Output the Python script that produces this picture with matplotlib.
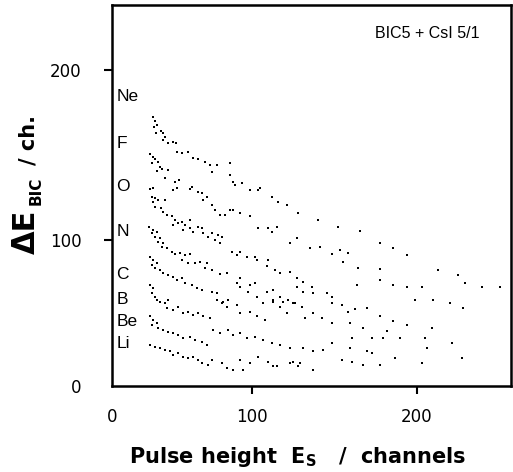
import matplotlib
matplotlib.use("Agg")
import matplotlib.pyplot as plt

# ---------------- data ----------------
ne_x = [40.4, 41.4, 42.4, 40.8, 42.0, 44.8, 46.4, 47.5, 46.0, 49.5, 52.5, 54.1, 54.5, 57.6, 61.6,
        64.6, 67.7, 71.7, 74.7, 78.8, 75.7, 86.8, 86.8, 88.9, 89.9, 93.9, 99.0, 104.0, 105.0,
        112.1, 116.1, 121.2, 128.3, 140.4, 152.5, 165.7, 177.8, 185.9, 193.9, 213.1, 225.2,
        229.3, 239.4, 250.5]
ne_y = [172.6, 170.2, 167.6, 166.7, 162.8, 164.3, 162.8, 160.8, 158.8, 157.3, 157.9, 156.9, 152.0,
        151.4, 152.0, 148.1, 147.5, 146.1, 144.1, 144.1, 140.2, 145.1, 138.3, 134.3, 132.4, 133.4,
        129.4, 129.4, 130.4, 125.5, 122.6, 120.6, 115.7, 111.8, 107.9, 105.0, 98.1, 95.2, 91.3,
        82.4, 79.5, 74.6, 72.6, 72.6]

f_x = [38.4, 40.0, 41.4, 39.4, 43.4, 44.4, 42.4, 45.4, 49.5, 47.5, 53.5, 56.1, 52.5, 54.5, 62.6,
       63.6, 67.7, 69.7, 72.7, 70.7, 75.7, 77.8, 80.8, 83.8, 86.8, 88.9, 92.9, 99.0, 104.0, 110.1,
       112.1, 115.1, 123.2, 127.2, 135.3, 141.4, 148.5, 153.5, 158.6, 155.6, 164.7, 177.8, 185.9,
       193.9, 203.0]
f_y = [150.6, 148.6, 147.5, 145.1, 146.1, 143.2, 140.6, 141.6, 141.2, 136.3, 134.3, 135.3, 129.4,
       130.4, 129.8, 131.4, 128.5, 127.5, 125.5, 123.6, 120.6, 117.7, 114.7, 114.7, 117.7, 117.7,
       115.7, 113.8, 106.9, 106.9, 104.9, 107.9, 98.1, 101.0, 95.1, 96.1, 91.8, 94.1, 92.2, 87.3,
       83.4, 82.8, 73.6, 72.6, 72.6]

o_x = [38.4, 40.4, 39.4, 41.4, 40.4, 43.4, 41.4, 44.8, 47.5, 46.4, 48.5, 51.5, 53.5, 52.5, 55.5,
       57.6, 59.6, 62.6, 58.6, 62.6, 64.6, 67.7, 69.7, 70.7, 73.7, 75.7, 79.8, 81.8, 77.8, 80.8,
       87.9, 90.9, 92.9, 96.9, 102.0, 103.0, 109.1, 110.1, 114.1, 117.1, 123.2, 127.2, 131.3,
       136.3, 145.4, 163.6, 177.8, 199.0, 210.1, 220.2, 228.3]
o_y = [129.8, 130.4, 125.5, 124.5, 122.6, 123.6, 119.6, 118.6, 123.6, 116.7, 114.7, 113.8, 111.8,
       108.9, 109.8, 110.8, 108.9, 111.8, 105.9, 106.9, 104.9, 107.9, 106.9, 104.0, 102.0, 104.0,
       103.0, 102.0, 100.0, 98.1, 93.2, 91.2, 93.2, 90.2, 90.2, 88.3, 84.4, 88.3, 82.4, 80.4,
       81.4, 77.5, 75.5, 72.6, 68.7, 73.6, 76.6, 64.8, 64.8, 62.8, 59.9]

n_x = [37.9, 40.4, 39.4, 42.4, 41.4, 44.4, 43.4, 46.4, 45.4, 48.5, 51.5, 53.5, 56.5, 59.6, 62.6,
       57.6, 61.6, 65.6, 68.7, 72.7, 71.7, 75.7, 80.8, 84.8, 90.9, 92.9, 99.0, 102.0, 109.1, 113.1,
       117.1, 122.2, 127.2, 131.3, 137.3, 148.5, 162.6, 169.7, 177.8, 185.9, 193.9, 209.1]
n_y = [107.9, 105.9, 104.0, 104.9, 102.0, 101.0, 99.0, 98.1, 96.1, 95.1, 93.2, 91.8, 92.2, 91.2,
       91.8, 88.3, 86.7, 86.3, 87.3, 86.3, 83.4, 82.4, 80.0, 80.4, 74.9, 77.5, 73.6, 74.9, 69.6,
       70.6, 66.7, 64.8, 72.6, 69.6, 68.6, 66.7, 59.3, 59.9, 55.0, 52.1, 50.1, 48.1]

c_x = [38.4, 40.4, 39.4, 42.4, 41.4, 44.4, 46.4, 49.5, 52.5, 54.5, 57.6, 59.6, 63.6, 66.6, 69.7,
       75.7, 78.8, 82.8, 85.8, 92.9, 98.0, 103.0, 107.0, 113.1, 119.2, 125.2, 130.3, 148.5,
       154.6, 158.6, 159.6, 167.7, 181.8, 179.8, 189.9, 205.1, 221.2]
c_y = [90.2, 88.3, 85.3, 86.3, 83.4, 82.4, 80.4, 79.4, 78.5, 76.5, 77.5, 74.9, 73.6, 71.6, 70.6,
       69.6, 68.6, 63.8, 64.8, 72.6, 69.6, 66.7, 62.8, 64.8, 63.8, 62.8, 60.8, 62.8,
       61.9, 57.9, 51.1, 48.1, 46.2, 42.3, 42.3, 42.3, 39.3]

b_x = [38.4, 40.4, 39.4, 41.4, 42.4, 44.4, 47.5, 49.5, 48.5, 52.5, 55.5, 58.6, 61.6, 64.6, 67.7,
       70.7, 74.7, 78.8, 81.8, 84.8, 90.9, 92.9, 99.0, 103.0, 108.1, 113.1, 117.1, 121.2, 126.2,
       132.3, 137.3, 142.4, 148.5, 160.6, 172.7, 206.1]
b_y = [73.6, 71.6, 68.7, 66.7, 64.8, 63.8, 62.8, 64.8, 59.9, 58.8, 60.8, 56.9, 57.9, 55.9, 56.9,
       55.0, 54.0, 64.8, 62.8, 60.8, 61.8, 56.9, 57.9, 55.0, 53.0, 63.8, 60.8, 56.9, 62.8,
       53.9, 56.9, 54.0, 51.0, 42.3, 42.3, 36.4]

be_x = [38.4, 40.4, 39.4, 42.4, 43.4, 46.4, 49.5, 52.5, 55.5, 58.6, 62.6, 65.6, 69.7, 72.7, 76.7,
        80.8, 85.8, 88.9, 92.9, 96.9, 102.0, 107.0, 112.1, 117.1, 123.2, 131.3, 137.3, 143.4,
        148.5, 159.6, 169.7, 172.7, 154.6, 186.9, 203.0, 227.3]
be_y = [55.0, 53.0, 50.1, 51.0, 48.1, 47.1, 46.1, 45.1, 44.2, 42.2, 43.2, 41.2, 40.2, 38.3, 47.1,
        45.1, 47.1, 44.2, 45.1, 42.2, 43.2, 41.2, 39.3, 38.3, 36.3, 36.3, 34.4, 35.4,
        39.3, 36.4, 34.4, 33.4, 29.5, 30.5, 27.6, 30.5]

li_x = [38.4, 41.4, 44.4, 47.5, 50.5, 52.5, 55.5, 58.6, 61.6, 64.6, 67.7, 69.7, 73.7, 75.7, 81.8,
        84.8, 88.9, 92.9, 95.0, 99.0, 104.0, 110.1, 113.1, 115.1, 123.2, 128.3, 137.3, 125.3,
        129.3, 160.6, 167.7, 177.8]
li_y = [38.3, 37.3, 36.3, 35.4, 34.4, 32.4, 33.4, 31.4, 30.4, 31.4, 29.5, 27.5, 26.5, 29.5, 27.5,
        24.6, 23.6, 29.5, 23.6, 27.5, 31.4, 28.5, 25.6, 25.6, 27.5, 25.6, 23.6, 28.5,
        27.6, 28.5, 26.6, 26.6]

element_names = ["Ne", "F", "O", "N", "C", "B", "Be", "Li"]
element_label_y = [184.3, 157.0, 131.4, 104.9, 79.4, 64.7, 51.9, 39.2]

x_tick_values = [100, 200]
y_tick_values = [100, 200]
x_tick_labels = ["0", "100", "200"]
y_tick_labels = ["0", "100", "200"]

series = [(ne_x, ne_y), (f_x, f_y), (o_x, o_y), (n_x, n_y),
          (c_x, c_y), (b_x, b_y), (be_x, be_y), (li_x, li_y)]

# ---------------- figure ----------------
W, H = 513, 472
fig = plt.figure(figsize=(W / 100, H / 100), dpi=100)
ax = fig.add_axes([112 / W, 1 - 386 / H, (511 - 112) / W, (386 - 5) / H])

X_LO, X_HI = 15.3, 257.2
Y_LO, Y_HI = 14.1, 238.2
ax.set_xlim(X_LO, X_HI)
ax.set_ylim(Y_LO, Y_HI)

for xs, ys in series:
    ax.scatter(xs, ys, s=3.8, marker="s", color="black", linewidths=0)

for name, yv in zip(element_names, element_label_y):
    ax.text(18.0, yv, name, ha="left", va="center", fontsize=12.5,
            family="Liberation Sans")

ax.text(0.922, 0.925, "BIC5 + CsI 5/1", transform=ax.transAxes, ha="right", va="center",
        fontsize=11.5, family="Liberation Sans")

ax.set_xticks([X_LO] + x_tick_values)
ax.set_xticklabels(x_tick_labels)
ax.set_yticks([Y_LO] + y_tick_values)
ax.set_yticklabels(y_tick_labels)
ax.tick_params(axis="both", direction="out", length=6, width=1.5, labelsize=12)
ax.tick_params(axis="x", pad=10)
ax.tick_params(axis="y", pad=16)
ax.xaxis.get_major_ticks()[0].tick1line.set_visible(False)
ax.yaxis.get_major_ticks()[0].tick1line.set_visible(False)
for sp in ax.spines.values():
    sp.set_linewidth(1.8)

# axis titles
fig.text(298 / W, 1 - 457 / H, r"Pulse height  $\mathbf{E_S}$   /  channels",
         ha="center", va="center", fontsize=15, fontweight="bold")
fig.text(26 / W, 1 - 232 / H, "\u0394E", rotation=90, ha="center", va="center",
         fontsize=22, fontweight="bold")
fig.text(36 / W, 1 - 191 / H, "BIC", rotation=90, ha="center", va="center",
         fontsize=11, fontweight="bold")
fig.text(29 / W, 1 - 140 / H, "/ ch.", rotation=90, ha="center", va="center",
         fontsize=15, fontweight="bold")

fig.savefig("out.png", dpi=100)
